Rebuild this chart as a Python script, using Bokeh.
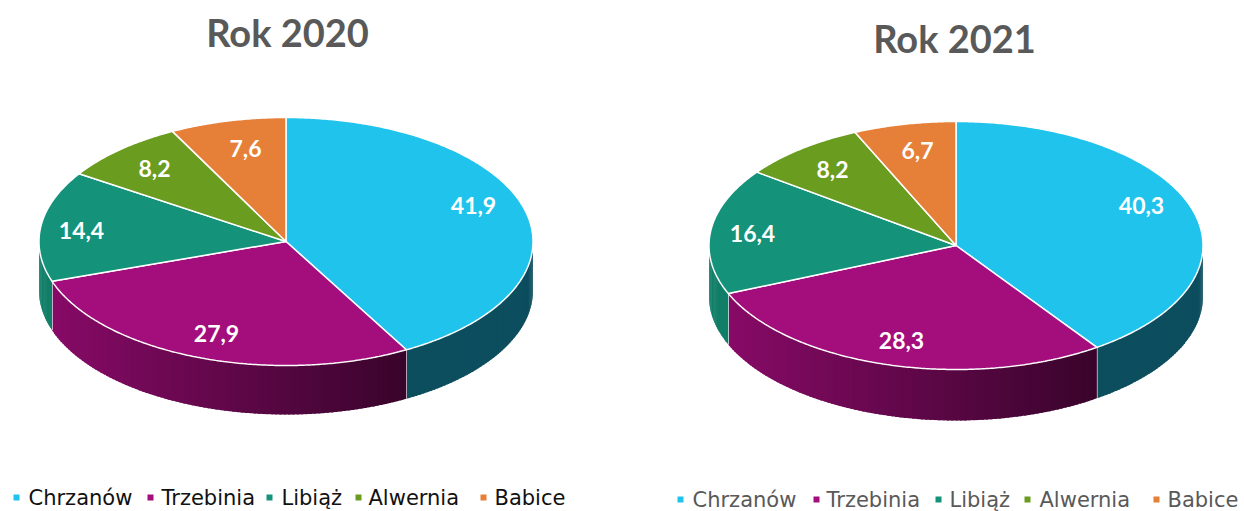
import math
from bokeh.plotting import figure
from bokeh.models import Range1d
from bokeh.core.properties import value
from bokeh.embed import file_html
from bokeh.resources import INLINE

# ---- data ----
categories = ["Chrzanów", "Trzebinia", "Libiąż", "Alwernia", "Babice"]
values_2020 = [41.9, 27.9, 14.4, 8.2, 7.6]
values_2021 = [40.3, 28.3, 16.4, 8.2, 6.7]
titles = ["Rok 2020", "Rok 2021"]
colors = ["#1FC3EC", "#A30D7C", "#14937A", "#6A9C1F", "#E67F37"]

# ---- layout (picture pixels) ----
W, H = 1244, 511
side_shade = [(0.40, 0.40), (0.83, 0.35), (0.86, 0.86), (0.8, 0.8), (0.8, 0.8)]  # (left, right)

pies = [
    dict(values=values_2020, cx=285.5, cy=241, rx=247, ry=124, depth=49, title=titles[0], tx=287, ty=31,
         labels=[(473, 205), (216, 333), (81, 230), (154, 168), (245, 148)],
         lg_y=497, lg_color="#111111", mk_x=[16, 150, 269, 358, 483], tx_x=[28, 161, 281, 368, 494]),
    dict(values=values_2021, cx=955.5, cy=245, rx=247, ry=124, depth=51, title=titles[1], tx=954, ty=37,
         labels=[(1141, 205), (901, 340), (752, 233), (832, 169), (917, 150)],
         lg_y=499, lg_color="#595959", mk_x=[680, 816, 938, 1027, 1156], tx_x=[692, 826, 949, 1039, 1167]),
]

p = figure(width=W, height=H, x_range=Range1d(0, W), y_range=Range1d(H, 0),
           toolbar_location=None, output_backend="svg", min_border=0, outline_line_color=None)
p.axis.visible = False
p.grid.visible = False


def pt(pie, deg, dy=0):
    a = math.radians(deg)
    return pie["cx"] + pie["rx"] * math.sin(a), pie["cy"] - pie["ry"] * math.cos(a) + dy


def shade(hex_color, s):
    r, g, b = (int(hex_color[i:i + 2], 16) for i in (1, 3, 5))
    return "#%02x%02x%02x" % (int(r * s), int(g * s), int(b * s))


for pie in pies:
    vals = pie["values"]
    total = sum(vals)
    edges = [0.0]
    for v in vals:
        edges.append(edges[-1] + v / total * 360)

    # side wall: strips along the front half of the rim, drawn with slight overlap
    for i, color in enumerate(colors):
        lo, hi = max(edges[i], 90), min(edges[i + 1], 270)
        if hi <= lo:
            continue
        s_left, s_right = side_shade[i]
        n = max(1, int(hi - lo))
        xleft, xright = pt(pie, hi)[0], pt(pie, lo)[0]
        xs, ys, fills = [], [], []
        for k in range(n):
            a0 = lo + (hi - lo) * k / n
            a1 = min(hi, lo + (hi - lo) * (k + 1.6) / n)
            x0, y0 = pt(pie, a0)
            x1, y1 = pt(pie, a1)
            xb0, yb0 = pt(pie, a0, pie["depth"])
            xb1, yb1 = pt(pie, a1, pie["depth"])
            xs.append([x0, x1, xb1, xb0])
            ys.append([y0, y1, yb1, yb0])
            t = ((x0 + x1) / 2 - xleft) / max(xright - xleft, 1)
            fills.append(shade(color, s_left + (s_right - s_left) * t))
        p.patches(xs, ys, fill_color=fills, line_color=None)
        if 90 < edges[i + 1] < 270:
            xe, ye = pt(pie, edges[i + 1])
            xe2, ye2 = pt(pie, edges[i + 1], pie["depth"])
            p.line([xe, xe2], [ye, ye2], line_color="#FFFFFF", line_width=1.2)

    # top face
    for i, color in enumerate(colors):
        n = max(2, int(edges[i + 1] - edges[i]) * 2)
        xs = [pie["cx"]]
        ys = [pie["cy"]]
        for k in range(n + 1):
            x, y = pt(pie, edges[i] + (edges[i + 1] - edges[i]) * k / n)
            xs.append(x)
            ys.append(y)
        p.patch(xs, ys, fill_color=color, line_color="#FFFFFF", line_width=1.5)

    # data labels
    p.text([q[0] for q in pie["labels"]], [q[1] for q in pie["labels"]],
           text=[f"{v:.1f}".replace(".", ",") for v in vals],
           text_color="#FFFFFF", text_font=value("Lato"), text_font_style="bold",
           text_font_size="23px", text_align="center", text_baseline="middle")

    # title
    p.text([pie["tx"]], [pie["ty"]], text=[pie["title"]], text_color="#595959",
           text_font=value("Lato"), text_font_style="bold", text_font_size="38px",
           text_align="center", text_baseline="middle")

    # legend
    p.scatter(pie["mk_x"], [pie["lg_y"]] * 5, marker="square", size=6,
              fill_color=colors, line_color=None)
    p.text(pie["tx_x"], [pie["lg_y"]] * 5, text=categories, text_color=pie["lg_color"],
           text_font=value("DejaVu Sans"), text_font_size="21px",
           text_align="left", text_baseline="middle")

open("out.html", "w").write(file_html(p, INLINE))
